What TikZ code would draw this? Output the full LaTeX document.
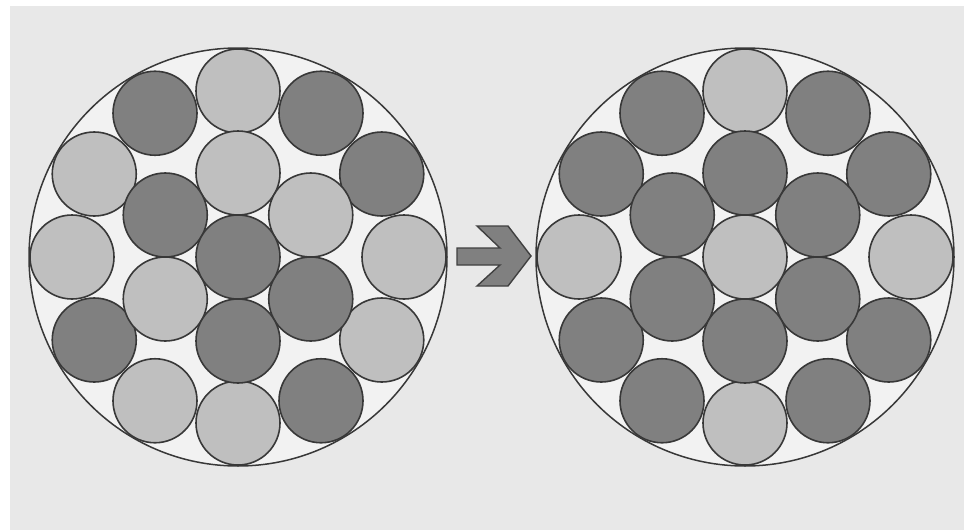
\documentclass[tikz,border=0pt]{standalone}
\usetikzlibrary{calc}
\begin{document}
\begin{tikzpicture}[x=1pt,y=-1pt,
  ball/.style={draw=black!78,line width=1.6pt,circle,minimum size=84pt,inner sep=0pt},
  lt/.style={ball,fill=black!25},
  dk/.style={ball,fill=black!50},
  big/.style={draw=black!78,line width=1.5pt,fill=black!5,circle,minimum size=418pt,inner sep=0pt}]
\useasboundingbox (0,0) rectangle (964,530);
\fill[white] (0,0) rectangle (964,530);
\fill[black!9] (10,6) rectangle (964,530);
% left
\node[big] (L) at (238,257) {};
\foreach \a/\s [count=\i] in {90/lt,120/dk,60/dk,150/lt,30/dk,180/lt,0/lt,210/dk,330/lt,240/lt,270/lt,300/dk}
  \node[\s] (Lo\i) at ($(238,257)+(-\a:166)$) {};
\foreach \a/\s [count=\i] in {90/lt,150/dk,30/lt,210/lt,330/dk,270/dk}
  \node[\s] (Li\i) at ($(238,257)+(-\a:84)$) {};
\node[dk] (Lc) at (238,257) {};
% right
\node[big] (R) at (745,257) {};
\foreach \a/\s [count=\i] in {90/lt,120/dk,60/dk,150/dk,30/dk,180/lt,0/lt,210/dk,330/dk,240/dk,270/lt,300/dk}
  \node[\s] (Ro\i) at ($(745,257)+(-\a:166)$) {};
\foreach \a [count=\i] in {90,150,30,210,330,270}
  \node[dk] (Ri\i) at ($(745,257)+(-\a:84)$) {};
\node[lt] (Rc) at (745,257) {};
% arrow
\draw[draw=black!75,fill=black!50,line width=1.4pt,line join=miter]
  (457,248) -- (500,248) -- (477,226) -- (508,226) -- (531,256) -- (508,286) -- (477,286) -- (500,265) -- (457,265) -- cycle;
\end{tikzpicture}
\end{document}
